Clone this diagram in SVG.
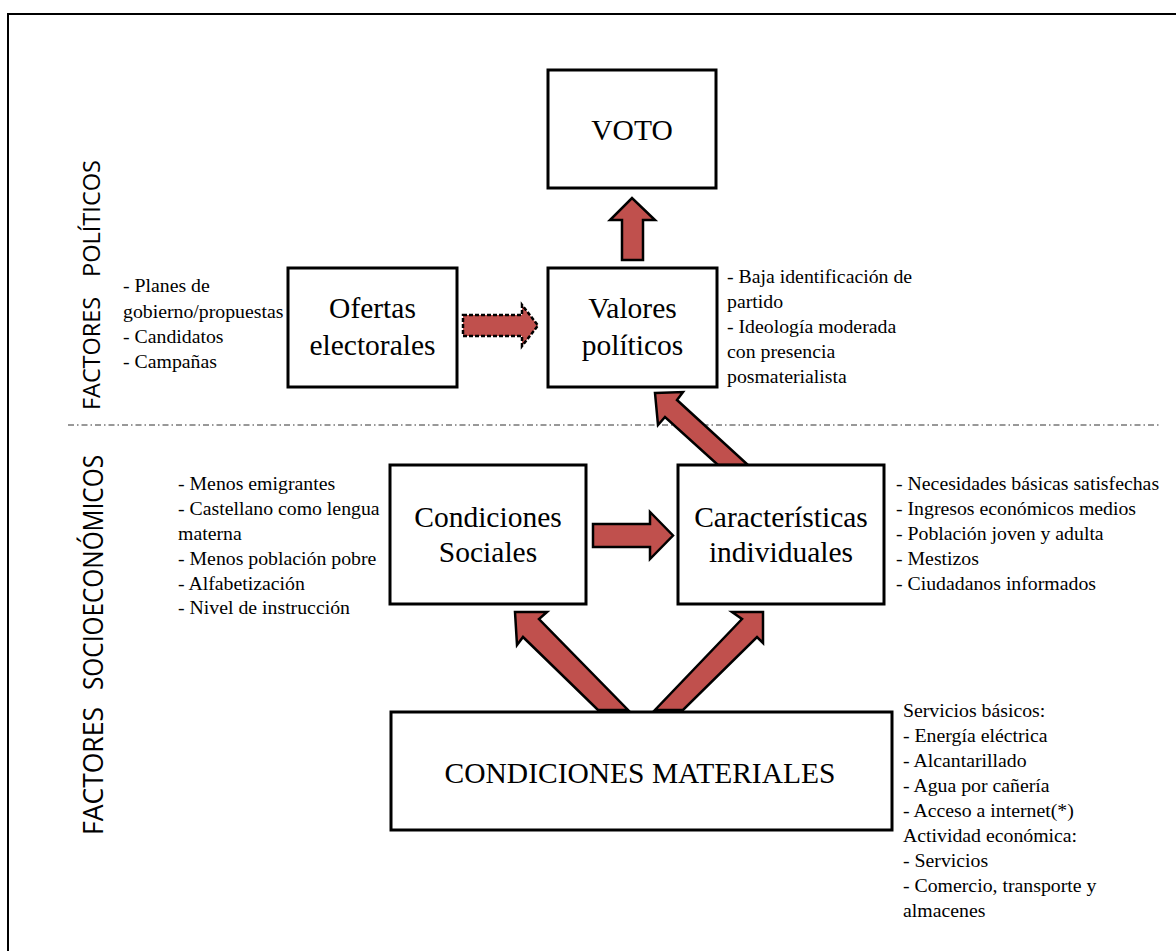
<svg xmlns="http://www.w3.org/2000/svg" width="1176" height="951" viewBox="0 0 1176 951">
<style>
.box{fill:#fff;stroke:#000;stroke-width:3}
.lbl{font-family:"Liberation Serif","Times New Roman",serif;font-size:29.5px;fill:#000;text-anchor:middle}
.note{font-family:"Liberation Serif","Times New Roman",serif;font-size:19.8px;fill:#000}
.side{font-family:"Open Sans","DejaVu Sans",sans-serif;fill:#000}
.arr{fill:#C0504D;stroke:#000;stroke-width:2.5;stroke-linejoin:miter}
</style>
<rect width="1176" height="951" fill="#fff"/>
<rect x="8" y="14" width="1200" height="1000" fill="none" stroke="#000" stroke-width="2"/>
<line x1="68" y1="425" x2="1160" y2="425" stroke="#333" stroke-width="1" stroke-dasharray="6 3 1.5 3"/>
<g id="side-labels">
<text class="side" font-size="24" transform="translate(100,410) rotate(-90)"><tspan x="0" y="0" textLength="113" lengthAdjust="spacingAndGlyphs">FACTORES</tspan><tspan x="133" y="0" textLength="117" lengthAdjust="spacingAndGlyphs">POLÍTICOS</tspan></text>
<text class="side" font-size="27" transform="translate(103,835) rotate(-90)"><tspan x="0" y="0" textLength="128" lengthAdjust="spacingAndGlyphs">FACTORES</tspan><tspan x="145" y="0" textLength="235" lengthAdjust="spacingAndGlyphs">SOCIOECONÓMICOS</tspan></text>
</g>
<g id="connectors">
<polygon class="arr" points="622,260 643,260 643,220 655,220 632,198 610,220 622,220"/>
<polygon class="arr" stroke-dasharray="4 2" stroke-width="2" points="463,315 522,315 522,305 538,325.5 522,346 522,336 463,336"/>
<polygon class="arr" points="593,524 650,524 650,512 673,535.5 650,559 650,547 593,547"/>
<polygon class="arr" points="655,393 683,392 677,400 748,465 718,465 665,417 658,425"/>
<polygon class="arr" points="515,612 547,612 539,619 628,710 598,710 523,637 517,645"/>
<polygon class="arr" points="763,612 732,612 742,619 655,710 683,710 757,637 763,643"/>
</g>
<g id="voto">
<rect class="box" x="548" y="70" width="168" height="118"/>
<text class="lbl" x="632" y="140">VOTO</text>
</g>
<g id="ofertas">
<rect class="box" x="288" y="268" width="169" height="119"/>
<text class="lbl" x="372.5" y="318">Ofertas</text>
<text class="lbl" x="372.5" y="355">electorales</text>
<text class="note" x="123" y="292">- Planes de</text>
<text class="note" x="123" y="318">gobierno/propuestas</text>
<text class="note" x="123" y="343">- Candidatos</text>
<text class="note" x="123" y="368">- Campañas</text>
</g>
<g id="valores">
<rect class="box" x="548" y="268" width="169" height="119"/>
<text class="lbl" x="632.5" y="318">Valores</text>
<text class="lbl" x="632.5" y="355">políticos</text>
<text class="note" x="727" y="283">- Baja identificación de</text>
<text class="note" x="727" y="308">partido</text>
<text class="note" x="727" y="333">- Ideología moderada</text>
<text class="note" x="727" y="358">con presencia</text>
<text class="note" x="727" y="383">posmaterialista</text>
</g>
<g id="condiciones-sociales">
<rect class="box" x="390" y="465" width="196" height="139"/>
<text class="lbl" x="488" y="527">Condiciones</text>
<text class="lbl" x="488" y="562">Sociales</text>
<text class="note" x="178" y="490">- Menos emigrantes</text>
<text class="note" x="178" y="515">- Castellano como lengua</text>
<text class="note" x="178" y="540">materna</text>
<text class="note" x="178" y="565">- Menos población pobre</text>
<text class="note" x="178" y="590">- Alfabetización</text>
<text class="note" x="178" y="614">- Nivel de instrucción</text>
</g>
<g id="caracteristicas">
<rect class="box" x="678" y="465" width="206" height="139"/>
<text class="lbl" x="781" y="527">Características</text>
<text class="lbl" x="781" y="562">individuales</text>
<text class="note" x="896" y="490">- Necesidades básicas satisfechas</text>
<text class="note" x="896" y="515">- Ingresos económicos medios</text>
<text class="note" x="896" y="540">- Población joven y adulta</text>
<text class="note" x="896" y="565">- Mestizos</text>
<text class="note" x="896" y="590">- Ciudadanos informados</text>
</g>
<g id="condiciones-materiales">
<rect class="box" x="391" y="712" width="501" height="118"/>
<text class="lbl" x="640" y="783">CONDICIONES MATERIALES</text>
<text class="note" x="903" y="717">Servicios básicos:</text>
<text class="note" x="903" y="742">- Energía eléctrica</text>
<text class="note" x="903" y="767">- Alcantarillado</text>
<text class="note" x="903" y="792">- Agua por cañería</text>
<text class="note" x="903" y="817">- Acceso a internet(*)</text>
<text class="note" x="903" y="842">Actividad económica:</text>
<text class="note" x="903" y="867">- Servicios</text>
<text class="note" x="903" y="892">- Comercio, transporte y</text>
<text class="note" x="903" y="917">almacenes</text>
</g>
</svg>
